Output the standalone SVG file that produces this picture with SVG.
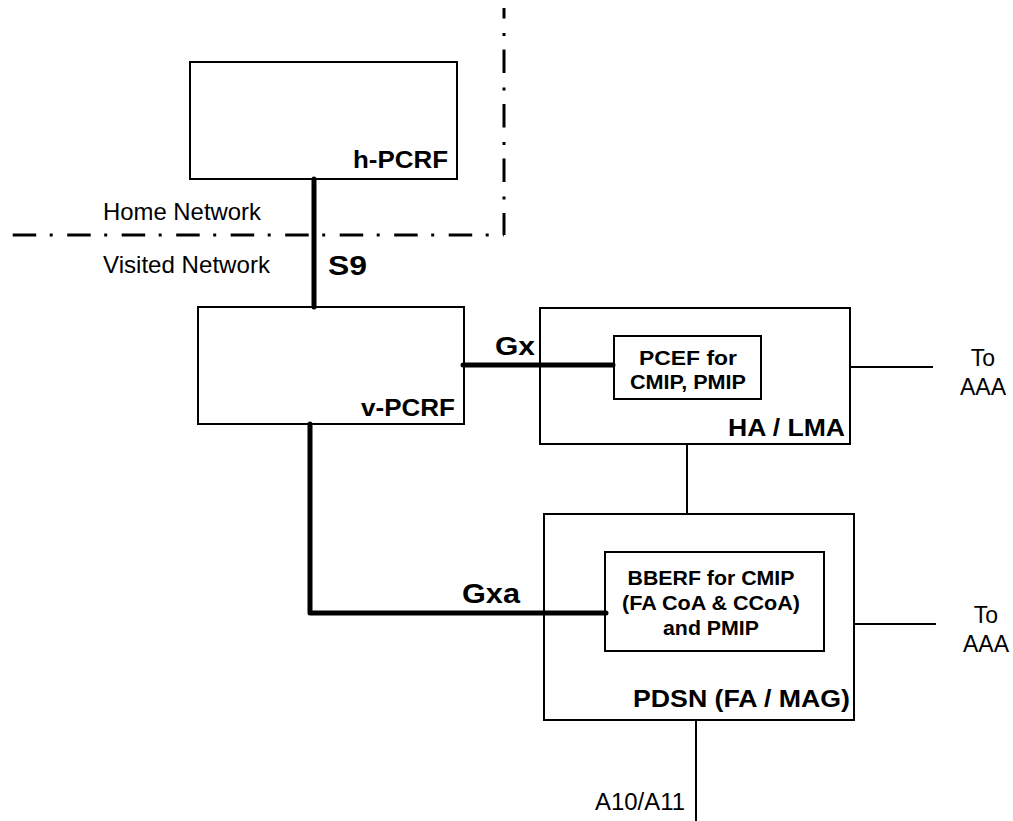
<svg xmlns="http://www.w3.org/2000/svg" width="1013" height="821" viewBox="0 0 1013 821">
  <style>
    .box { fill: #ffffff; stroke: #000000; stroke-width: 2; }
    .thin { fill: none; stroke: #000000; stroke-width: 2; }
    .thick { fill: none; stroke: #000000; stroke-width: 5; stroke-linecap: round; stroke-linejoin: round; }
    .border { fill: none; stroke: #000000; stroke-width: 3; stroke-dasharray: 23.5 13.5 3 14.5; }
    .lbl { font-family: "Liberation Sans", Arial, sans-serif; font-size: 24px; fill: #000000; }
    .sm { font-size: 23px; }
    .b { font-weight: bold; }
    .big { font-size: 28px; }
    .mid { font-size: 26px; }
    .inner { font-family: "Liberation Sans", Arial, sans-serif; font-size: 20px; font-weight: bold; fill: #000000; text-anchor: middle; }
  </style>
  <rect width="1013" height="821" fill="#ffffff"/>

  <!-- home / visited network boundary -->
  <g id="network-boundary">
    <path class="border" d="M12.7,235 H504"/>
    <path class="border" d="M504,235 V8" stroke-dashoffset="1.5"/>
    <text class="lbl" x="103" y="220" textLength="158" lengthAdjust="spacingAndGlyphs">Home Network</text>
    <text class="lbl" x="103" y="273" textLength="167" lengthAdjust="spacingAndGlyphs">Visited Network</text>
  </g>

  <g id="h-pcrf">
    <rect class="box" x="190" y="62" width="267" height="117"/>
    <text class="lbl b" x="353" y="168" textLength="95" lengthAdjust="spacingAndGlyphs">h-PCRF</text>
  </g>

  <g id="v-pcrf">
    <rect class="box" x="198" y="307" width="266" height="117"/>
    <text class="lbl b" x="361" y="416" textLength="94" lengthAdjust="spacingAndGlyphs">v-PCRF</text>
  </g>

  <g id="ha-lma">
    <rect class="box" x="540" y="308" width="310" height="136"/>
    <rect class="box" x="614" y="336" width="147" height="63"/>
    <text class="inner" x="688" y="365" textLength="98" lengthAdjust="spacingAndGlyphs">PCEF for</text>
    <text class="inner" x="688" y="389" textLength="116" lengthAdjust="spacingAndGlyphs">CMIP, PMIP</text>
    <text class="lbl b" x="728" y="436" textLength="117" lengthAdjust="spacingAndGlyphs">HA / LMA</text>
  </g>

  <g id="pdsn">
    <rect class="box" x="544" y="514" width="310" height="206"/>
    <rect class="box" x="605" y="552" width="219" height="99"/>
    <text class="inner" x="711" y="585" textLength="167" lengthAdjust="spacingAndGlyphs">BBERF for CMIP</text>
    <text class="inner" x="711" y="610" textLength="178" lengthAdjust="spacingAndGlyphs">(FA CoA &amp; CCoA)</text>
    <text class="inner" x="711" y="635" textLength="96" lengthAdjust="spacingAndGlyphs">and PMIP</text>
    <text class="lbl b" x="633" y="707" textLength="217" lengthAdjust="spacingAndGlyphs">PDSN (FA / MAG)</text>
  </g>

  <!-- connectors and their labels, drawn over the boxes -->
  <g id="connectors">
    <path class="thick" d="M314,179 V307"/>
    <path class="thick" d="M463,365 H613"/>
    <path class="thick" d="M310,424 V613 H606"/>
    <path class="thin" d="M850,367 H933"/>
    <path class="thin" d="M687,444 V514"/>
    <path class="thin" d="M854,624 H936"/>
    <path class="thin" d="M696,720 V821"/>
    <text class="lbl b big" x="328" y="275" textLength="39" lengthAdjust="spacingAndGlyphs">S9</text>
    <text class="lbl b mid" x="495" y="355" textLength="40" lengthAdjust="spacingAndGlyphs">Gx</text>
    <text class="lbl b big" x="462" y="603" textLength="58" lengthAdjust="spacingAndGlyphs">Gxa</text>
    <text class="lbl sm" x="983" y="366" text-anchor="middle">To</text>
    <text class="lbl sm" x="983" y="395" text-anchor="middle">AAA</text>
    <text class="lbl sm" x="986" y="623" text-anchor="middle">To</text>
    <text class="lbl sm" x="986" y="652" text-anchor="middle">AAA</text>
    <text class="lbl sm" x="595" y="810" textLength="90" lengthAdjust="spacingAndGlyphs">A10/A11</text>
  </g>
</svg>
